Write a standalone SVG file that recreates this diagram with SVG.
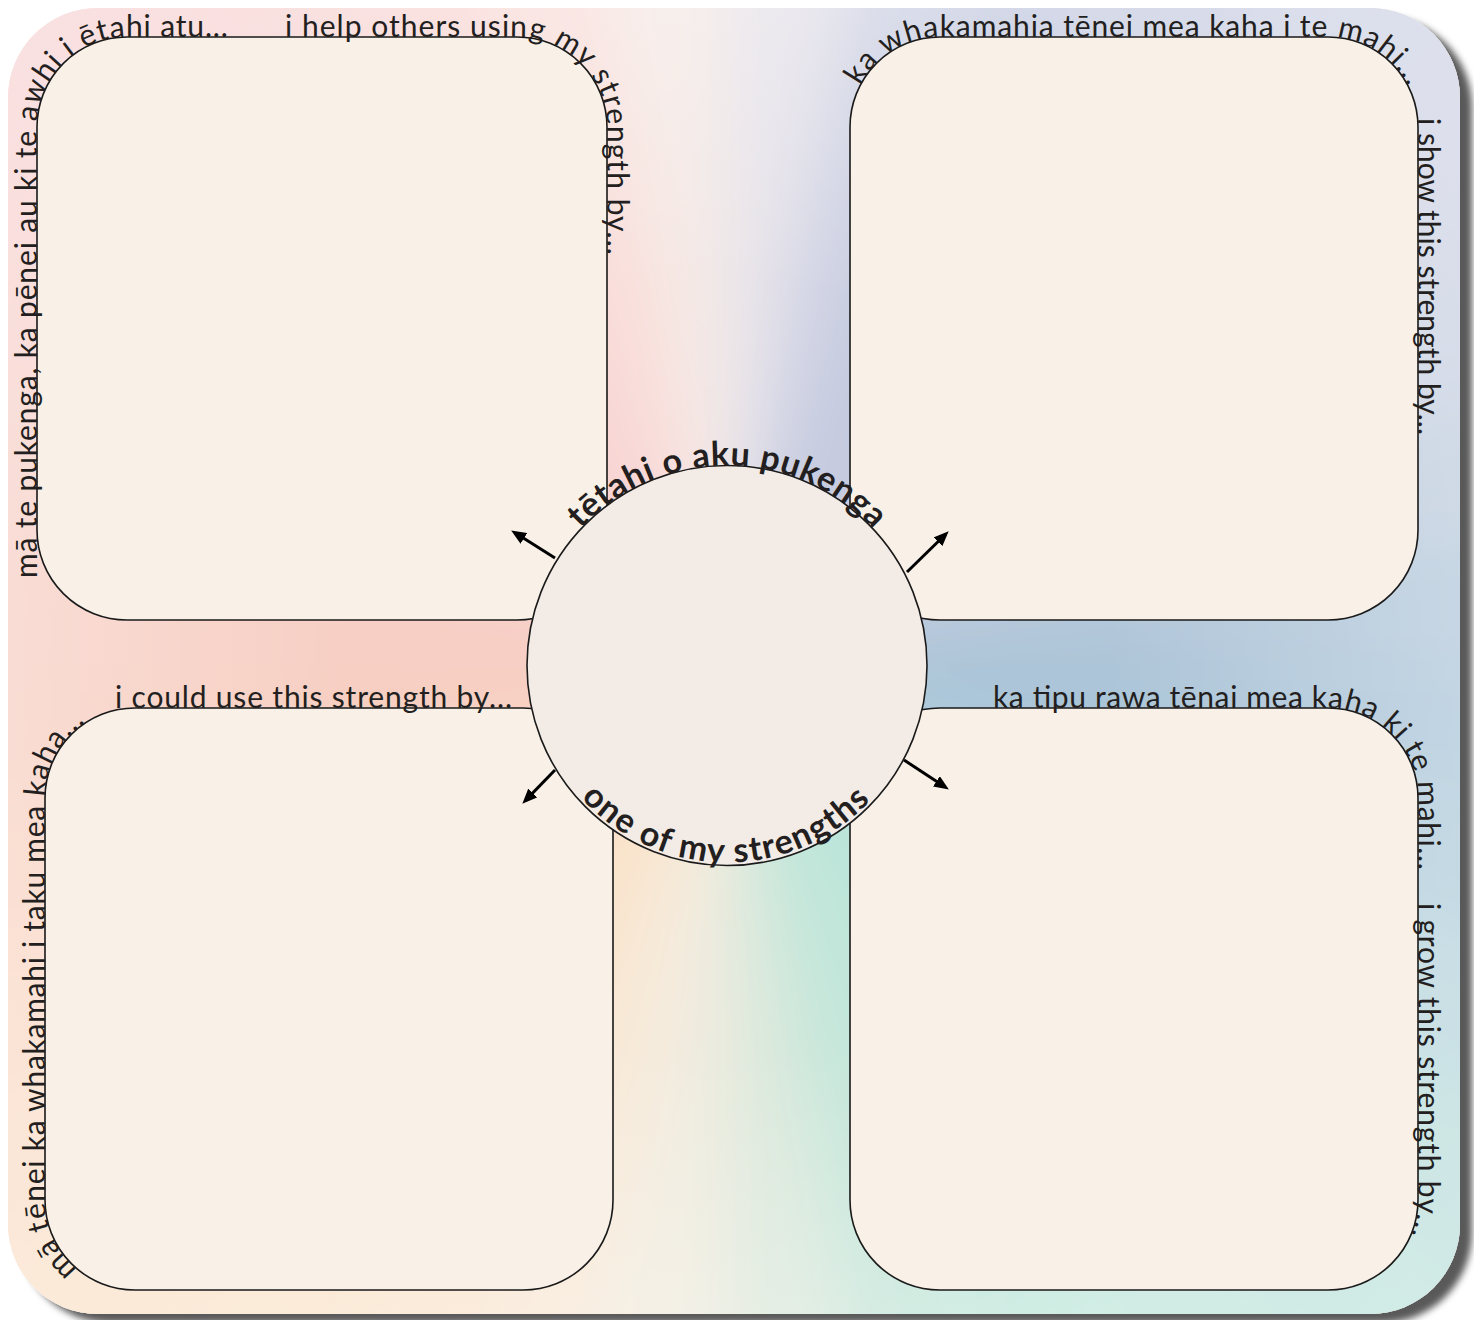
<svg xmlns="http://www.w3.org/2000/svg" width="1474" height="1320" viewBox="0 0 1474 1320">
<style>
.box{fill:#f9f1e8;stroke:#1a1a1a;stroke-width:1.6}
.lbl{font-family:Lato,"Liberation Sans",sans-serif;font-size:30px;fill:#231f20}
.ctr{font-family:Lato,"Liberation Sans",sans-serif;font-size:34px;font-weight:700;fill:#231f20}
.arrow{stroke:#000;stroke-width:3;fill:none;marker-end:url(#ah)}
</style>
<defs>
<marker id="ah" viewBox="0 0 12 10" refX="8" refY="5" markerWidth="15" markerHeight="12.5" markerUnits="userSpaceOnUse" orient="auto">
<path d="M0,0 L12,5 L0,10 z" fill="#000"/>
</marker>
<filter id="sh" x="-5%" y="-5%" width="115%" height="115%"><feDropShadow dx="12" dy="9" stdDeviation="3.5" flood-color="#000" flood-opacity="0.65"/></filter>
<filter id="bl" filterUnits="userSpaceOnUse" x="-700" y="-700" width="2900" height="2800"><feGaussianBlur stdDeviation="30"/></filter>
<clipPath id="bgclip"><rect x="8" y="8" width="1452" height="1306" rx="90"/></clipPath>
<radialGradient id="fade" gradientUnits="userSpaceOnUse" cx="727" cy="665" r="1000">
<stop offset="0.38" stop-color="#fff" stop-opacity="0"/>
<stop offset="0.75" stop-color="#fff" stop-opacity="0.3"/>
<stop offset="1" stop-color="#fff" stop-opacity="0.36"/>
</radialGradient>
<path id="p1" d="M37 37 L517 37 A90 90 0 0 1 607 127 L607 600"/>
<path id="p2" d="M37 600 L37 127 A90 90 0 0 1 127 37 L600 37"/>
<path id="p3" d="M850 400 L850 127 A90 90 0 0 1 940 37 L1328 37 A90 90 0 0 1 1418 127 L1418 400"/>
<path id="p4" d="M1418 37 L1418 620"/>
<path id="p5" d="M45 708 L613 708"/>
<path id="p6" d="M135 1290 A90 90 0 0 1 45 1200 L45 798 A90 90 0 0 1 135 708 L600 708"/>
<path id="p7" d="M850 708 L1328 708 A90 90 0 0 1 1418 798 L1418 1290"/>
<path id="p8" d="M1418 708 L1418 1200 A90 90 0 0 1 1328 1290"/>
<path id="pc1" d="M527 665.5 A200 200 0 0 1 927 665.5"/>
<path id="pc2" d="M530 665.5 A197 197 0 0 0 924 665.5"/>
</defs>

<g id="background">
<rect x="8" y="8" width="1452" height="1306" rx="90" fill="#f3ede8" filter="url(#sh)"/>
<g clip-path="url(#bgclip)">
<g filter="url(#bl)">
<path d="M727 665L2027 665L2007 891Z" fill="#aac4d8"/>
<path d="M727 665L2007 891L1949 1110Z" fill="#acc9d9"/>
<path d="M727 665L1949 1110L1853 1315Z" fill="#b2d2da"/>
<path d="M727 665L1853 1315L1723 1501Z" fill="#b6dbd9"/>
<path d="M727 665L1723 1501L1563 1661Z" fill="#b9e1d9"/>
<path d="M727 665L1563 1661L1377 1791Z" fill="#bce4d9"/>
<path d="M727 665L1377 1791L1172 1887Z" fill="#bfe6da"/>
<path d="M727 665L1172 1887L953 1945Z" fill="#c6e6da"/>
<path d="M727 665L953 1945L727 1965Z" fill="#dde9dd"/>
<path d="M727 665L727 1965L501 1945Z" fill="#f1ece0"/>
<path d="M727 665L501 1945L282 1887Z" fill="#f8e9d8"/>
<path d="M727 665L282 1887L77 1791Z" fill="#f9e4cd"/>
<path d="M727 665L77 1791L-109 1661Z" fill="#fae2c8"/>
<path d="M727 665L-109 1661L-269 1501Z" fill="#fae0c6"/>
<path d="M727 665L-269 1501L-399 1315Z" fill="#f9dbc4"/>
<path d="M727 665L-399 1315L-495 1110Z" fill="#f9d6c3"/>
<path d="M727 665L-495 1110L-553 891Z" fill="#f8d2c2"/>
<path d="M727 665L-553 891L-573 665Z" fill="#f7cfc2"/>
<path d="M727 665L-573 665L-553 439Z" fill="#f7cfc4"/>
<path d="M727 665L-553 439L-495 220Z" fill="#f7d0c8"/>
<path d="M727 665L-495 220L-399 15Z" fill="#f7d0cb"/>
<path d="M727 665L-399 15L-269 -171Z" fill="#f7d0cf"/>
<path d="M727 665L-269 -171L-109 -331Z" fill="#f7d1d1"/>
<path d="M727 665L-109 -331L77 -461Z" fill="#f7d3d2"/>
<path d="M727 665L77 -461L282 -557Z" fill="#f8d7d5"/>
<path d="M727 665L282 -557L501 -615Z" fill="#f9dfdb"/>
<path d="M727 665L501 -615L727 -635Z" fill="#f5eae6"/>
<path d="M727 665L727 -635L953 -615Z" fill="#e6e3ea"/>
<path d="M727 665L953 -615L1172 -557Z" fill="#cdd1e3"/>
<path d="M727 665L1172 -557L1377 -461Z" fill="#c3c9df"/>
<path d="M727 665L1377 -461L1563 -331Z" fill="#c6cbe0"/>
<path d="M727 665L1563 -331L1723 -171Z" fill="#cacfe2"/>
<path d="M727 665L1723 -171L1853 15Z" fill="#cbd0e2"/>
<path d="M727 665L1853 15L1949 220Z" fill="#c6cee0"/>
<path d="M727 665L1949 220L2007 439Z" fill="#bccadc"/>
<path d="M727 665L2007 439L2027 665Z" fill="#b0c6d9"/>
</g>
<rect x="0" y="0" width="1474" height="1320" fill="url(#fade)"/>
</g>
</g>

<g id="node-tl"><rect class="box" x="37" y="37" width="570" height="583" rx="90"/></g>
<g id="node-tr"><rect class="box" x="850" y="37" width="568" height="583" rx="90"/></g>
<g id="node-bl"><rect class="box" x="45" y="708" width="568" height="582" rx="90"/></g>
<g id="node-br"><rect class="box" x="850" y="708" width="568" height="582" rx="90"/></g>

<g id="node-center"><circle cx="727" cy="665.5" r="200" fill="#f3ebe6" stroke="#1a1a1a" stroke-width="1.6"/></g>

<g id="connectors">
<line class="arrow" x1="555" y1="558" x2="515.4" y2="533.1"/>
<line class="arrow" x1="907" y1="572" x2="945.1" y2="534.8"/>
<line class="arrow" x1="555" y1="770" x2="525.8" y2="800.1"/>
<line class="arrow" x1="904" y1="760" x2="944.7" y2="786.8"/>
</g>

<g id="labels">
<text class="lbl"><textPath href="#p1" startOffset="248" textLength="501" lengthAdjust="spacing">i help others using my strength by...</textPath></text>
<text class="lbl"><textPath href="#p2" startOffset="22" textLength="693" lengthAdjust="spacing">mā te pukenga, ka pēnei au ki te awhi i ētahi atu...</textPath></text>
<text class="lbl"><textPath href="#p3" startOffset="316" textLength="585" lengthAdjust="spacing">ka whakamahia tēnei mea kaha i te mahi...</textPath></text>
<text class="lbl"><textPath href="#p4" startOffset="81" textLength="317" lengthAdjust="spacing">i show this strength by...</textPath></text>
<text class="lbl"><textPath href="#p5" startOffset="70" textLength="397" lengthAdjust="spacing">i could use this strength by...</textPath></text>
<text class="lbl"><textPath href="#p6" startOffset="62" textLength="570" lengthAdjust="spacing">mā tēnei ka whakamahi i taku mea kaha...</textPath></text>
<text class="lbl"><textPath href="#p7" startOffset="143" textLength="548" lengthAdjust="spacing">ka tipu rawa tēnai mea kaha ki te mahi...</textPath></text>
<text class="lbl"><textPath href="#p8" startOffset="195" textLength="333" lengthAdjust="spacing">i grow this strength by...</textPath></text>
<text class="ctr"><textPath href="#pc1" startOffset="150" textLength="328" lengthAdjust="spacing">tētahi o aku pukenga</textPath></text>
<text class="ctr"><textPath href="#pc2" startOffset="145" textLength="325" lengthAdjust="spacing">one of my strengths</textPath></text>
</g>
</svg>
